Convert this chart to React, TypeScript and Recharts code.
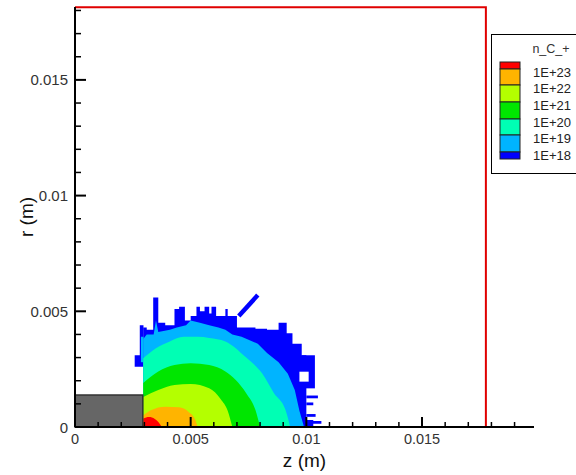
import { ComposedChart, Area, Line, XAxis, YAxis, ReferenceArea } from 'recharts';

// upper edge of each contour band, [z (m), r (m)]
const RED_EDGE = [[0.00295, 0.00037], [0.0032, 0.00043], [0.00345, 0.00035], [0.0036, 0.00022], [0.00375, 0]];
const ORANGE_EDGE = [[0.00295, 0.0005], [0.0033, 0.00073], [0.0039, 0.00088], [0.0045, 0.00085], [0.0049, 0.00066], [0.0052, 0.0003], [0.0053, 0]];
const YGREEN_EDGE = [[0.00295, 0.0013], [0.0036, 0.0016], [0.0043, 0.00182], [0.005, 0.00186], [0.0058, 0.00167], [0.0063, 0.0012], [0.0066, 0.0007], [0.0068, 0]];
const GREEN_EDGE = [[0.00295, 0.0019], [0.0036, 0.0024], [0.0043, 0.00268], [0.005, 0.00275], [0.0058, 0.00268], [0.0065, 0.0024], [0.0074, 0.00146], [0.0078, 0.00073], [0.008, 0]];
const AQUA_EDGE = [[0.00295, 0.00297], [0.0035, 0.0034], [0.0041, 0.0037], [0.0047, 0.0039], [0.0053, 0.0039], [0.0058, 0.00385], [0.0065, 0.0037], [0.0074, 0.003], [0.0081, 0.0023], [0.0086, 0.00146], [0.0091, 0.00073], [0.0093, 0]];
const LBLUE_EDGE = [[0.00295, 0.0038], [0.0031, 0.004], [0.0034, 0.004], [0.0035, 0.0046], [0.0036, 0.0041], [0.0041, 0.0042], [0.0044, 0.0043], [0.0048, 0.0044], [0.005, 0.0046], [0.0054, 0.0045], [0.0058, 0.0044], [0.0062, 0.0043], [0.0065, 0.0042], [0.0068, 0.004], [0.0072, 0.0039], [0.0079, 0.0036], [0.0083, 0.0032], [0.0088, 0.0028], [0.0092, 0.0023], [0.0095, 0.0016], [0.0097, 0.0007], [0.0099, 0]];
const BLUE_EDGE = [[0.00295, 0.0043], [0.0031, 0.0042], [0.00338, 0.0056], [0.0036, 0.0045], [0.0039, 0.0044], [0.0043, 0.0051], [0.0045, 0.0052], [0.00475, 0.0046], [0.005, 0.0048], [0.00525, 0.0052], [0.0054, 0.005], [0.0056, 0.0052], [0.0058, 0.0049], [0.0059, 0.0052], [0.0061, 0.0048], [0.0065, 0.0051], [0.0066, 0.0048], [0.007, 0.0043], [0.0078, 0.00425], [0.0083, 0.0042], [0.0088, 0.0045], [0.00915, 0.00405], [0.0094, 0.0036], [0.0098, 0.0031], [0.01, 0.0003], [0.0103, 0]];

// detached blue / light blue pieces, [z, rLow, rHigh]
const BLUE_LEFT = [[0.00258, 0.0026, 0.0031], [0.0028, 0.0026, 0.0044], [0.00296, 0.0026, 0.0044]];
const LBLUE_LEFT = [[0.00285, 0.0028, 0.0039], [0.00296, 0.0028, 0.0039]];
const BLUE_RIGHT = [[0.0098, 0.00167, 0.0031], [0.01037, 0.00167, 0.0031]];
const BLUE_STREAK = [[0.00708, 0.0048], [0.0079, 0.0057]];
// [z1, z2, r]
const BLUE_SPIKES = [[0.01, 0.0105, 0.0013], [0.01, 0.0103, 0.001], [0.01, 0.0104, 0.0005], [0.0101, 0.01065, 0.0002]];
// [z1, z2, r1, r2]
const BLUE_HOLES = [[0.0097, 0.0101, 0.00196, 0.00239]];

const ELECTRODE = { z: 0.00293, r: 0.00138 };
const DOMAIN_EDGE = [[0, 0.01814], [0.01776, 0.01814], [0.01776, 0]];

const X_TICKS = [0, 0.001, 0.002, 0.003, 0.004, 0.005, 0.006, 0.007, 0.008, 0.009, 0.01, 0.011, 0.012, 0.013, 0.014, 0.015, 0.016, 0.017, 0.018, 0.019];
const X_TICK_LABELS = ['0', '', '', '', '', '0.005', '', '', '', '', '0.01', '', '', '', '', '0.015', '', '', '', ''];
const Y_TICKS = [0, 0.001, 0.002, 0.003, 0.004, 0.005, 0.006, 0.007, 0.008, 0.009, 0.01, 0.011, 0.012, 0.013, 0.014, 0.015, 0.016, 0.017, 0.018];
const Y_TICK_LABELS = ['0', '', '', '', '', '0.005', '', '', '', '', '0.01', '', '', '', '', '0.015', '', '', ''];

const LEVEL_LABELS = ['1E+23', '1E+22', '1E+21', '1E+20', '1E+19', '1E+18'];
const LEVEL_COLORS = ['#ff0000', '#ffb400', '#b4ff00', '#00e600', '#00ffb4', '#00b4ff', '#0000ff'];

const FONT = '"Liberation Sans", Arial, sans-serif';

const pts = (arr: number[][]) => arr.map(([z, r]) => ({ z, r }));
const ranges = (arr: number[][]) => arr.map(([z, lo, hi]) => ({ z, r: [lo, hi] }));

const XTick = (props: any) => {
  const { x, y, index } = props;
  const label = X_TICK_LABELS[index] ?? '';
  const major = label !== '';
  return (
    <g>
      <line x1={x} x2={x} y1={y} y2={y - (major ? 10 : 5)} stroke="#000" strokeWidth={major ? 2 : 1.5} />
      {major && (
        <text x={x} y={y + 17} textAnchor="middle" fontSize={14.5} fill="#333" fontFamily={FONT}>{label}</text>
      )}
    </g>
  );
};

const YTick = (props: any) => {
  const { x, y, index } = props;
  const label = Y_TICK_LABELS[index] ?? '';
  const major = label !== '';
  return (
    <g>
      <line x1={x} x2={x + (major ? 11 : 6)} y1={y} y2={y} stroke="#000" strokeWidth={major ? 2 : 1.5} />
      {major && (
        <text x={x - 7} y={y} textAnchor="end" dominantBaseline="central" fontSize={15} fill="#333" fontFamily={FONT}>{label}</text>
      )}
    </g>
  );
};

function ContourLegend() {
  const rows = [7, 16, 17, 17, 16, 17, 7];
  let top = 27;
  const swatches = LEVEL_COLORS.map((c, i) => {
    const el = <rect key={c} x={8} y={top} width={20} height={rows[i]} fill={c} stroke="#222" strokeWidth={1} />;
    top += rows[i];
    return el;
  });
  let b = 27;
  const bounds = rows.slice(0, 6).map((h) => (b += h));
  return (
    <div style={{ position: 'absolute', left: 491, top: 34, width: 90, height: 138, border: '1px solid #000', background: '#fff' }}>
      <svg width={90} height={138} style={{ position: 'absolute', left: 0, top: 0 }}>
        <text x={59} y={14} textAnchor="middle" dominantBaseline="central" fontSize={12.5} fill="#333" fontFamily={FONT}>n_C_+</text>
        {swatches}
        {LEVEL_LABELS.map((l, i) => (
          <text key={l} x={41} y={bounds[i] + 3} dominantBaseline="central" fontSize={13} fill="#222" fontFamily={FONT}>{l}</text>
        ))}
      </svg>
    </div>
  );
}

const band = (data: any[], color: string, type: any = 'linear') => (
  <Area
    key={color + data.length + data[0].z}
    data={data}
    dataKey="r"
    type={type}
    fill={color}
    fillOpacity={1}
    stroke="none"
    dot={false}
    activeDot={false}
    isAnimationActive={false}
  />
);

export default function App() {
  return (
    <div style={{ position: 'absolute', left: 0, top: 0, width: 576, height: 475, overflow: 'hidden', background: '#fff' }}>
      <ComposedChart width={576} height={475} margin={{ top: 7, right: 42, bottom: 0, left: 0 }} style={{ fontFamily: FONT }}>
        {band(pts(BLUE_EDGE), LEVEL_COLORS[6], 'stepAfter')}
        {band(ranges(BLUE_LEFT), LEVEL_COLORS[6], 'stepAfter')}
        {band(ranges(BLUE_RIGHT), LEVEL_COLORS[6])}
        {band(pts(LBLUE_EDGE), LEVEL_COLORS[5])}
        {band(ranges(LBLUE_LEFT), LEVEL_COLORS[5])}
        {band(pts(AQUA_EDGE), LEVEL_COLORS[4], 'monotone')}
        {band(pts(GREEN_EDGE), LEVEL_COLORS[3], 'monotone')}
        {band(pts(YGREEN_EDGE), LEVEL_COLORS[2], 'monotone')}
        {band(pts(ORANGE_EDGE), LEVEL_COLORS[1], 'monotone')}
        {band(pts(RED_EDGE), LEVEL_COLORS[0], 'monotone')}
        {BLUE_HOLES.map(([z1, z2, r1, r2], i) => (
          <ReferenceArea key={'h' + i} x1={z1} x2={z2} y1={r1} y2={r2} fill="#fff" fillOpacity={1} stroke="none" />
        ))}
        {BLUE_SPIKES.map(([z1, z2, r], i) => (
          <ReferenceArea key={'s' + i} x1={z1} x2={z2} y1={r - 0.00006} y2={r + 0.00006} fill="#0000ff" fillOpacity={1} stroke="none" />
        ))}
        <Line data={pts(BLUE_STREAK)} dataKey="r" stroke="#0000ff" strokeWidth={4.5} dot={false} activeDot={false} isAnimationActive={false} />
        <ReferenceArea x1={0} x2={ELECTRODE.z} y1={0} y2={ELECTRODE.r} fill="#666" fillOpacity={1} stroke="#333" strokeWidth={1.5} />
        <Line data={pts(DOMAIN_EDGE)} dataKey="r" stroke="#e00000" strokeWidth={2} dot={false} activeDot={false} isAnimationActive={false} />
        <XAxis
          type="number"
          dataKey="z"
          domain={[0, 0.01984]}
          ticks={X_TICKS}
          interval={0}
          height={48}
          tickSize={0}
          tickMargin={0}
          tickLine={false}
          axisLine={{ stroke: '#000', strokeWidth: 2 }}
          tick={<XTick />}
          label={{
            content: (p: any) => {
              const vb = p.viewBox;
              return (
                <text x={vb.x + vb.width / 2} y={vb.y + 40} textAnchor="middle" fontSize={19} fill="#111" fontFamily={FONT}>z (m)</text>
              );
            },
          }}
        />
        <YAxis
          type="number"
          domain={[0, 0.01815]}
          ticks={Y_TICKS}
          interval={0}
          width={75}
          tickSize={0}
          tickMargin={0}
          tickLine={false}
          axisLine={{ stroke: '#000', strokeWidth: 2 }}
          tick={<YTick />}
          label={{
            content: (p: any) => {
              const vb = p.viewBox;
              const cy = vb.y + vb.height / 2;
              return (
                <text x={26} y={cy} transform={`rotate(-90 26 ${cy})`} textAnchor="middle" dominantBaseline="central" fontSize={19} fill="#111" fontFamily={FONT}>r (m)</text>
              );
            },
          }}
        />
      </ComposedChart>
      <ContourLegend />
    </div>
  );
}
